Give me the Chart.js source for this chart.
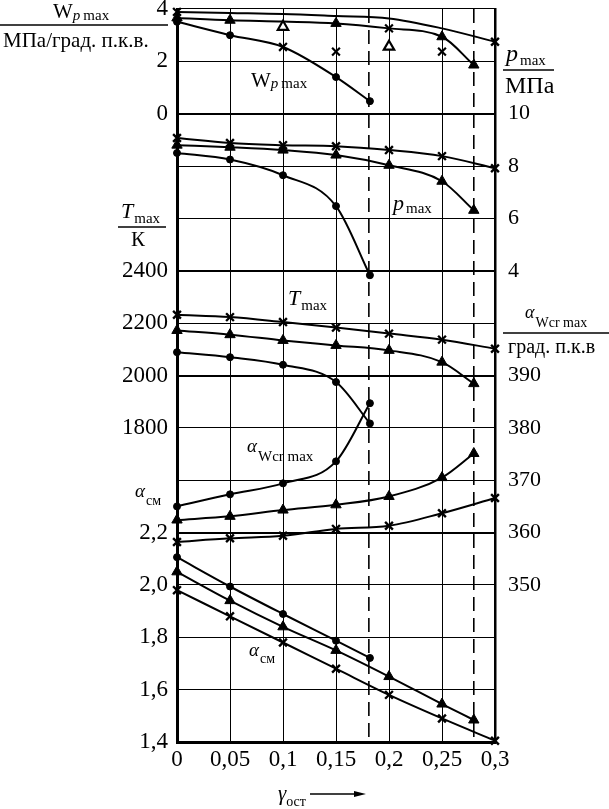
<!DOCTYPE html>
<html>
<head>
<meta charset="utf-8">
<script src="https://cdn.jsdelivr.net/npm/chart.js@4.4.1/dist/chart.umd.min.js"></script>
<style>
  html, body { margin: 0; padding: 0; background: #fff; }
  canvas { display: block; }
</style>
</head>
<body>
<canvas id="chart" width="609" height="809"></canvas>
<script>
(function () {
  "use strict";

  // γ_ост positions of the three families
  var gammaCross = [0, 0.05, 0.1, 0.15, 0.2, 0.25, 0.3];
  var gammaTri   = [0, 0.05, 0.1, 0.15, 0.2, 0.25, 0.28];
  var gammaDot   = [0, 0.05, 0.1, 0.15, 0.182];

  // W_p max, МПа/град. п.к.в.
  var wpCross = [3.89, 3.85, 3.81, 3.73, 3.64, 3.26, 2.75];
  var wpTri   = [3.66, 3.57, 3.52, 3.45, 3.26, 2.94, 1.86];
  var wpDot   = [3.51, 3.00, 2.55, 1.40, 0.48];
  var wpCrossExtraX = [0.1, 0.15, 0.2, 0.25];
  var wpCrossExtra  = [2.55, 2.37, 3.26, 2.37];
  var wpTriExtraX = [0.1, 0.2];
  var wpTriExtra  = [3.32, 2.56];

  // p_max, МПа
  var pCross = [9.07, 8.88, 8.80, 8.76, 8.61, 8.38, 7.92];
  var pTri   = [8.80, 8.72, 8.61, 8.42, 8.03, 7.42, 6.31];
  var pDot   = [8.50, 8.25, 7.65, 6.47, 3.83];

  // T_max, K
  var tCross = [2232, 2223, 2204, 2183, 2160, 2137, 2102];
  var tTri   = [2172, 2156, 2134, 2115, 2096, 2051, 1969];
  var tDot   = [2089, 2070, 2041, 1975, 1817];

  // α_Wcr max, град. п.к.в
  var awCross = [358.2, 358.9, 359.4, 360.7, 361.3, 363.7, 366.6];
  var awTri   = [362.4, 363.1, 364.3, 365.3, 366.9, 370.5, 375.1];
  var awDot   = [365.0, 367.3, 369.4, 373.6, 384.7];

  // α_см
  var acCross = [1.98, 1.88, 1.78, 1.68, 1.58, 1.49, 1.405];
  var acTri   = [2.05, 1.94, 1.84, 1.75, 1.65, 1.545, 1.484];
  var acDot   = [2.106, 1.994, 1.889, 1.787, 1.721];

  // limits (vertical dashed lines)
  var limitGamma = [0.181, 0.28];

  // tick labels
  var xTicks = [0, 0.05, 0.1, 0.15, 0.2, 0.25, 0.3];
  var xTickLabels = ['0', '0,05', '0,1', '0,15', '0,2', '0,25', '0,3'];
  var rows = [0, 1, 2, 3, 4, 5, 6, 7, 8, 9, 10, 11, 12, 13, 14];
  var leftLabels  = ['4', '2', '0', '', '', '2400', '2200', '2000', '1800', '', '2,2', '2,0', '1,8', '1,6', '1,4'];
  var rightLabels = ['', '', '10', '8', '6', '4', '', '390', '380', '370', '360', '350', '', '', ''];
  var heavyRows = [2, 5, 7, 10];

  var SERIF = '"Liberation Serif", "DejaVu Serif", serif';

  function pts(xs, ys) {
    return xs.map(function (x, i) { return { x: x, y: ys[i] }; });
  }

  function curve(xs, ys, axis, style, radius) {
    var isCross = style === 'crossRot';
    return {
      type: 'line',
      data: pts(xs, ys),
      yAxisID: axis,
      borderColor: '#000',
      borderWidth: 2,
      pointStyle: style,
      pointRadius: radius,
      pointBackgroundColor: '#000',
      pointBorderColor: '#000',
      pointBorderWidth: isCross ? 2.4 : 1,
      cubicInterpolationMode: 'monotone',
      tension: 0.4,
      fill: false,
      clip: false
    };
  }

  function marks(xs, ys, axis, style, radius, bg) {
    return {
      type: 'line',
      data: pts(xs, ys),
      yAxisID: axis,
      showLine: false,
      pointStyle: style,
      pointRadius: radius,
      pointBackgroundColor: bg || '#000',
      pointBorderColor: '#000',
      pointBorderWidth: 2.2,
      clip: false
    };
  }

  function dashed(g) {
    return {
      type: 'line',
      data: [{ x: g, y: 0 }, { x: g, y: 14 }],
      yAxisID: 'row',
      borderColor: '#000',
      borderWidth: 1.6,
      borderDash: [14, 7],
      pointRadius: 0,
      tension: 0,
      clip: false
    };
  }

  var X = 5.5, TR = 6, D = 3.5;

  var datasets = [
    dashed(limitGamma[0]),
    dashed(limitGamma[1]),

    curve(gammaCross, wpCross, 'wp', 'crossRot', [X, 0, 0, 0, 0, 0, X]),
    curve(gammaTri, wpTri, 'wp', 'triangle', [TR, TR, 0, TR, 0, TR, TR]),
    curve(gammaDot, wpDot, 'wp', 'circle', [D, D, 0, D, D]),
    marks(wpCrossExtraX, wpCrossExtra, 'wp', 'crossRot', X),
    marks(wpTriExtraX, wpTriExtra, 'wp', 'triangle', TR, '#fff'),

    curve(gammaCross, pCross, 'p', 'crossRot', X),
    curve(gammaTri, pTri, 'p', 'triangle', TR),
    curve(gammaDot, pDot, 'p', 'circle', D),

    curve(gammaCross, tCross, 't', 'crossRot', X),
    curve(gammaTri, tTri, 't', 'triangle', TR),
    curve(gammaDot, tDot, 't', 'circle', D),

    curve(gammaCross, awCross, 'aw', 'crossRot', X),
    curve(gammaTri, awTri, 'aw', 'triangle', TR),
    curve(gammaDot, awDot, 'aw', 'circle', D),

    curve(gammaCross, acCross, 'ac', 'crossRot', X),
    curve(gammaTri, acTri, 'ac', 'triangle', TR),
    curve(gammaDot, acDot, 'ac', 'circle', D)
  ];

  function hidden(min, max) {
    return { type: 'linear', display: false, min: min, max: max };
  }

  function noPad(scale) {
    scale.paddingTop = 0;
    scale.paddingBottom = 0;
    scale.paddingLeft = 0;
    scale.paddingRight = 0;
  }

  function runs(ctx, x, y, parts) {
    var cx = x;
    parts.forEach(function (r) {
      ctx.font = r.font;
      ctx.fillText(r.text, cx, y + (r.dy || 0));
      cx += ctx.measureText(r.text).width + (r.gap || 0);
    });
  }

  function rule(ctx, x1, x2, y) {
    ctx.beginPath();
    ctx.moveTo(x1, y);
    ctx.lineTo(x2, y);
    ctx.lineWidth = 1.5;
    ctx.stroke();
  }

  var textPlugin = {
    id: 'captions',
    afterDraw: function (chart) {
      var ctx = chart.ctx;
      ctx.save();
      ctx.fillStyle = '#000';
      ctx.strokeStyle = '#000';
      ctx.textAlign = 'left';
      ctx.textBaseline = 'alphabetic';

      var R = '21px ' + SERIF, S = '15px ' + SERIF;
      var I = 'italic 22px ' + SERIF, IS = 'italic 15px ' + SERIF;

      // left top title
      runs(ctx, 53, 18, [{ text: 'W', font: R }, { text: 'p', font: IS, dy: 2, gap: 3 }, { text: 'max', font: S, dy: 2 }]);
      rule(ctx, 0, 168, 25);
      ctx.font = '21px ' + SERIF;
      ctx.fillText('МПа/град. п.к.в.', 3, 47);

      // right p_max title
      runs(ctx, 506, 61, [{ text: 'p', font: 'italic 24px ' + SERIF, gap: 2 }, { text: 'max', font: S, dy: 4 }]);
      rule(ctx, 503, 554, 70);
      ctx.font = '24px ' + SERIF;
      ctx.fillText('МПа', 505, 93);

      // T_max / K
      runs(ctx, 121, 218, [{ text: 'T', font: I, gap: 1 }, { text: 'max', font: S, dy: 5 }]);
      rule(ctx, 118, 166, 227);
      ctx.font = '21px ' + SERIF;
      ctx.fillText('К', 131, 246);

      // α_Wcr max / град. п.к.в
      runs(ctx, 525, 318, [{ text: 'α', font: 'italic 18px ' + SERIF, gap: 1 }, { text: 'Wcr max', font: '14px ' + SERIF, dy: 9 }]);
      rule(ctx, 503, 609, 333);
      ctx.font = '20px ' + SERIF;
      ctx.fillText('град. п.к.в', 508, 353);

      // α_см left
      runs(ctx, 135, 497, [{ text: 'α', font: 'italic 19px ' + SERIF, gap: 1 }, { text: 'см', font: '14px ' + SERIF, dy: 8 }]);

      // labels inside the plot
      runs(ctx, 251, 87, [{ text: 'W', font: R }, { text: 'p', font: IS, dy: 1, gap: 3 }, { text: 'max', font: S, dy: 1 }]);
      runs(ctx, 393, 210, [{ text: 'p', font: I, gap: 2 }, { text: 'max', font: S, dy: 3 }]);
      runs(ctx, 288, 305, [{ text: 'T', font: I, gap: 1 }, { text: 'max', font: S, dy: 5 }]);
      runs(ctx, 247, 452, [{ text: 'α', font: 'italic 19px ' + SERIF, gap: 1 }, { text: 'Wcr max', font: '15px ' + SERIF, dy: 9 }]);
      runs(ctx, 249, 656, [{ text: 'α', font: 'italic 19px ' + SERIF, gap: 1 }, { text: 'см', font: '14px ' + SERIF, dy: 7 }]);

      // x title with arrow
      runs(ctx, 278, 800, [{ text: 'γ', font: 'italic 21px ' + SERIF, gap: 0 }, { text: 'ост', font: '14px ' + SERIF, dy: 6 }]);
      ctx.beginPath();
      ctx.moveTo(310, 794);
      ctx.lineTo(358, 794);
      ctx.lineWidth = 1.3;
      ctx.stroke();
      ctx.beginPath();
      ctx.moveTo(366, 794);
      ctx.lineTo(354, 791);
      ctx.lineTo(354, 797);
      ctx.closePath();
      ctx.fill();

      ctx.restore();
    }
  };

  new Chart(document.getElementById('chart').getContext('2d'), {
    data: { datasets: datasets },
    options: {
      responsive: false,
      animation: false,
      devicePixelRatio: 1,
      layout: { padding: { top: 9, left: 0, right: 0, bottom: 0 } },
      plugins: { legend: { display: false }, tooltip: { enabled: false } },
      scales: {
        x: {
          type: 'linear',
          position: 'bottom',
          min: 0,
          max: 0.3,
          afterBuildTicks: function (s) { s.ticks = xTicks.map(function (v) { return { value: v }; }); },
          afterFit: function (s) { s.height = 67; noPad(s); },
          ticks: {
            autoSkip: false,
            maxRotation: 0,
            padding: 4,
            color: '#000',
            font: { family: SERIF, size: 23 },
            callback: function (v) { return xTickLabels[Math.round(v / 0.05)]; }
          },
          grid: { color: '#000', lineWidth: 1, drawTicks: false },
          border: { display: true, color: '#000', width: 3 }
        },
        row: {
          type: 'linear',
          position: 'left',
          min: 0,
          max: 14,
          reverse: true,
          afterBuildTicks: function (s) { s.ticks = rows.map(function (v) { return { value: v }; }); },
          afterFit: function (s) { s.width = 177; noPad(s); },
          ticks: {
            autoSkip: false,
            padding: 9,
            color: '#000',
            font: { family: SERIF, size: 23 },
            callback: function (v) { return leftLabels[v]; }
          },
          grid: {
            color: '#000',
            drawTicks: false,
            lineWidth: function (c) { return c.tick && heavyRows.indexOf(c.tick.value) >= 0 ? 2 : 1.1; }
          },
          border: { display: true, color: '#000', width: 3 }
        },
        rowR: {
          type: 'linear',
          position: 'right',
          min: 0,
          max: 14,
          reverse: true,
          afterBuildTicks: function (s) { s.ticks = rows.map(function (v) { return { value: v }; }); },
          afterFit: function (s) { s.width = 114; noPad(s); },
          ticks: {
            autoSkip: false,
            padding: 13,
            color: '#000',
            font: { family: SERIF, size: 22 },
            callback: function (v) { return rightLabels[v]; }
          },
          grid: { display: false, drawTicks: false },
          border: { display: true, color: '#000', width: 2.5 }
        },
        wp: hidden(-24, 4),
        p: hidden(-14, 14),
        t: hidden(600, 3400),
        aw: hidden(320, 460),
        ac: hidden(1.4, 4.2)
      }
    },
    plugins: [textPlugin]
  });

})();
</script>
</body>
</html>
